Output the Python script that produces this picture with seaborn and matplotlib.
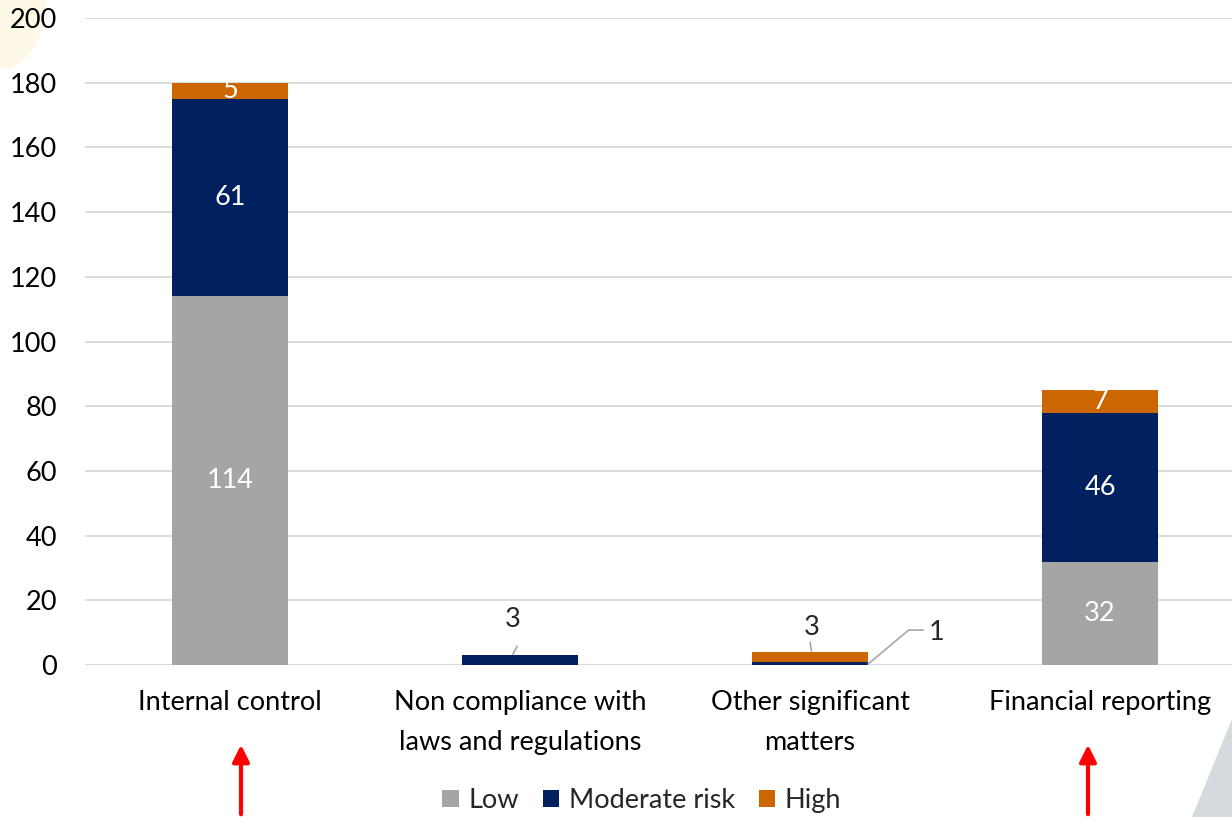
import matplotlib
matplotlib.use("Agg")
import matplotlib.pyplot as plt
import matplotlib.patches as mpatches
import numpy as np
import pandas as pd
import seaborn as sns

categories = ["Internal control", "Non compliance with\nlaws and regulations",
              "Other significant\nmatters", "Financial reporting"]
low = [114, 0, 0, 32]
moderate = [61, 3, 1, 46]
high = [5, 0, 3, 7]
series_names = ["Low", "Moderate risk", "High"]
colors = {"Low": "#A5A5A5", "Moderate risk": "#002060", "High": "#CC6600"}
yticks = list(range(0, 201, 20))

sns.set_theme(style="white")
plt.rcParams["font.family"] = ["Lato", "DejaVu Sans"]
FS = 19.5

df = pd.DataFrame({"category": categories, "Low": low,
                   "Moderate risk": moderate, "High": high})
df["cum_low"] = df["Low"]
df["cum_mod"] = df["Low"] + df["Moderate risk"]
df["cum_high"] = df["cum_mod"] + df["High"]

fig = plt.figure(figsize=(12.32, 8.17), dpi=100)

# background decorations
fig.patches.append(mpatches.Ellipse((0.0, 1.0), 0.075, 0.17, transform=fig.transFigure,
                                    facecolor="#FEF9E6", edgecolor="none", zorder=-5,
                                    figure=fig))
fig.patches.append(mpatches.Polygon([[1192 / 1232, 0.0], [1.0, 0.0], [1.0, 0.12]],
                                    closed=True, transform=fig.transFigure,
                                    facecolor="#D6DADF", edgecolor="none", zorder=-5,
                                    figure=fig))

ax = fig.add_axes([0.069, 0.186, 0.931, 0.792])
ax.set_facecolor("none")

# stacked bars: draw cumulative totals back to front
for col, name in [("cum_high", "High"), ("cum_mod", "Moderate risk"), ("cum_low", "Low")]:
    sns.barplot(data=df, x="category", y=col, color=colors[name], width=0.4,
                saturation=1, ax=ax, zorder=3, errorbar=None, linewidth=0)

ax.set_ylim(0, 200)
ax.set_xlim(-0.5, 3.455)
ax.set_yticks(yticks)
ax.yaxis.grid(True, color="#D9D9D9", linewidth=1.3, zorder=0)
ax.set_axisbelow(True)
for s in ax.spines.values():
    s.set_visible(False)
ax.axhline(0, color="#D9D9D9", linewidth=1.3, zorder=1)
ax.set_xlabel("")
ax.set_ylabel("")
ax.tick_params(axis="y", labelsize=FS, colors="black", length=0, pad=20)
ax.tick_params(axis="x", labelsize=FS, colors="black", length=0, pad=18)
ax.set_xticks(range(len(categories)))
ax.set_xticklabels(categories, linespacing=1.75)

# value labels inside segments
for i in range(len(categories)):
    bottoms = [0, low[i], low[i] + moderate[i]]
    for name, vals, b in zip(series_names, [low, moderate, high], bottoms):
        v = vals[i]
        if v >= 5:
            ax.text(i, b + v / 2, str(v), ha="center", va="center",
                    color="white", fontsize=FS, zorder=5)

# small segments labelled outside with leader lines
lc = "#A6A6A6"
# Non compliance: moderate 3
top1 = low[1] + moderate[1]
ax.plot([0.975, 0.99], [top1 + 0.3, top1 + 2.8], color=lc, lw=1.2, zorder=4)
ax.text(0.975, top1 + 11, str(moderate[1]), ha="center", va="center", fontsize=FS)
# Other significant matters: high 3 and moderate 1
top2 = low[2] + moderate[2] + high[2]
ax.plot([2.005, 2.0], [top2 + 0.3, top2 + 3], color=lc, lw=1.2, zorder=4)
ax.text(2.005, top2 + 7.5, str(high[2]), ha="center", va="center", fontsize=FS)
ax.plot([2.2, 2.34, 2.39], [low[2] + moderate[2] - 0.7, 10.8, 10.8],
        color=lc, lw=1.2, zorder=4, clip_on=False)
ax.text(2.41, 10, str(moderate[2]), ha="left", va="center", fontsize=FS)

# red arrows under highlighted categories
for x in [241 / 1232, 1088 / 1232]:
    fig.patches.append(mpatches.FancyArrowPatch((x, 0.0), (x, 1 - 742 / 817),
                                                transform=fig.transFigure,
                                                arrowstyle="-|>,head_length=10,head_width=5",
                                                color="#FF0000", lw=3, figure=fig))

# legend
handles = [mpatches.Patch(facecolor=colors[n], edgecolor="none", label=n) for n in series_names]
fig.legend(handles=handles, loc="center", bbox_to_anchor=(0.521, 0.02), ncol=3,
           frameon=False, fontsize=FS, handlelength=0.6, handleheight=0.6,
           handletextpad=0.35, columnspacing=0.9)

fig.savefig("out.png", dpi=100)
